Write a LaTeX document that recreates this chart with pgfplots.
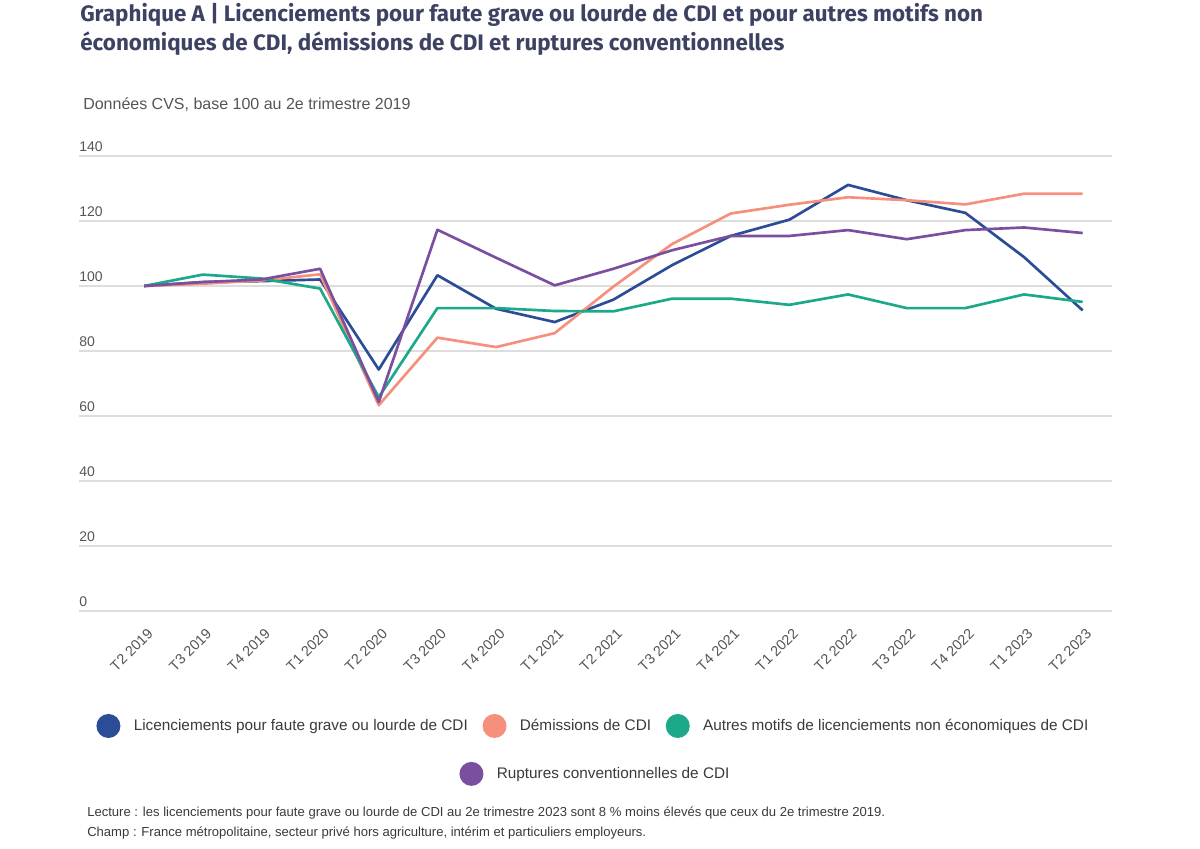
\documentclass[border=0pt]{standalone}
\usepackage{fontspec}
\setmainfont{Liberation Sans}
\newfontfamily\titlefont{Fira Sans}
\usepackage{pgfplots}
\pgfplotsset{compat=1.18}
\definecolor{cblue}{HTML}{2B4C96}
\definecolor{corange}{HTML}{F4907C}
\definecolor{cgreen}{HTML}{1BA98A}
\definecolor{cpurple}{HTML}{7A4FA0}
\definecolor{ctitle}{HTML}{3D4262}
\definecolor{gridc}{HTML}{DDDDDD}
\definecolor{tickc}{HTML}{555555}
\definecolor{legc}{HTML}{3A3A3A}
\pgfplotsset{
  dotlegend/.style={
    legend image code/.code={\fill[##1,draw=none] (9pt,0.35em) circle (9pt); \path[draw=none,fill=none] (0,0) -- (28pt,0);},
    legend style={draw=none, fill=none, inner sep=0pt, row sep=0pt,
      /tikz/every even column/.append style={column sep=11pt},
      nodes={inner sep=0pt, font=\fontsize{11.5}{13}\selectfont, text=legc, anchor=base west}},
  }
}
\begin{document}
\begin{tikzpicture}
\path[use as bounding box] (0pt,0pt) rectangle (900pt,636.75pt);
\node[anchor=base west, inner sep=0, font=\titlefont\bfseries\fontsize{16.8}{19}\selectfont, text=ctitle] at (60pt,620.25pt) {Graphique A | Licenciements pour faute grave ou lourde de CDI et pour autres motifs non};
\node[anchor=base west, inner sep=0, font=\titlefont\bfseries\fontsize{16.8}{19}\selectfont, text=ctitle] at (60pt,598.5pt) {économiques de CDI, démissions de CDI et ruptures conventionnelles};
\node[anchor=base west, inner sep=0, font=\fontsize{12}{14}\selectfont, text=tickc] at (62.25pt,554.25pt) {Données CVS, base 100 au 2e trimestre 2019};
\node[anchor=base west, inner sep=0, font=\fontsize{9.8}{11}\selectfont, text=legc] at (65.25pt,24pt) {Lecture : les licenciements pour faute grave ou lourde de CDI au 2e trimestre 2023 sont 8 \% moins élevés que ceux du 2e trimestre 2019.};
\node[anchor=base west, inner sep=0, font=\fontsize{9.8}{11}\selectfont, text=legc] at (65.25pt,9pt) {Champ : France métropolitaine, secteur privé hors agriculture, intérim et particuliers employeurs.};
\begin{axis}[
  dotlegend,
  at={(59.25pt,178.5pt)}, anchor=south west, scale only axis,
  width=774.75pt, height=341.25pt,
  xmin=-1.11, xmax=16.5, ymin=0, ymax=140,
  ytick={0,20,...,140},
  xtick={0,...,16},
  xticklabels={T2 2019,T3 2019,T4 2019,T1 2020,T2 2020,T3 2020,T4 2020,T1 2021,T2 2021,T3 2021,T4 2021,T1 2022,T2 2022,T3 2022,T4 2022,T1 2023,T2 2023},
  axis line style={draw=none}, major tick length=0pt,
  ymajorgrids, grid style={draw=gridc, line width=1.1pt},
  /pgf/number format/assume math mode=true,
  tick label style={font=\fontsize{10.8}{12}\selectfont, text=tickc},
  yticklabel style={anchor=south west, xshift=-3pt, inner sep=3pt, font=\fontsize{10.5}{12}\selectfont},
  xticklabel style={rotate=45, anchor=east, xshift=-4pt, yshift=-14pt},
  clip=false,
  legend columns=3,
  legend style={at={(0.497,-0.2527)}, anchor=center},
  every axis plot/.append style={line width=2pt, mark=none, line join=round},
]
\addplot[cblue] coordinates {(0,100) (1,101.2) (2,101.5) (3,102) (4,74.3) (5,103.3) (6,93) (7,88.9) (8,95.8) (9,106.4) (10,115.4) (11,120.4) (12,131.1) (13,126.4) (14,122.5) (15,108.9) (16,92.5)};
\addlegendentry{Licenciements pour faute grave ou lourde de CDI}
\addplot[corange] coordinates {(0,100) (1,100.7) (2,101.7) (3,103.6) (4,63.3) (5,84.1) (6,81.2) (7,85.5) (8,99.8) (9,112.9) (10,122.3) (11,125) (12,127.3) (13,126.4) (14,125.1) (15,128.4) (16,128.4)};
\addlegendentry{Démissions de CDI}
\addplot[cgreen] coordinates {(0,100) (1,103.5) (2,102.3) (3,99.2) (4,65.8) (5,93.2) (6,93.2) (7,92.3) (8,92.2) (9,96.1) (10,96.1) (11,94.2) (12,97.4) (13,93.2) (14,93.2) (15,97.4) (16,95.1)};
\addlegendentry{Autres motifs de licenciements non économiques de CDI}
\addplot[cpurple, forget plot] coordinates {(0,100) (1,101.2) (2,102) (3,105.3) (4,64.3) (5,117.3) (6,108.7) (7,100.2) (8,105.3) (9,111) (10,115.4) (11,115.4) (12,117.2) (13,114.4) (14,117.2) (15,118) (16,116.3)};
\end{axis}
\begin{axis}[
  dotlegend,
  at={(59.25pt,178.5pt)}, anchor=south west, scale only axis,
  width=774.75pt, height=341.25pt, hide axis,
  xmin=0, xmax=1, ymin=0, ymax=1,
  legend style={at={(0.499,-0.358)}, anchor=center},
]
\addlegendimage{fill=cpurple}
\addlegendentry{Ruptures conventionnelles de CDI}
\end{axis}
\end{tikzpicture}
\end{document}
